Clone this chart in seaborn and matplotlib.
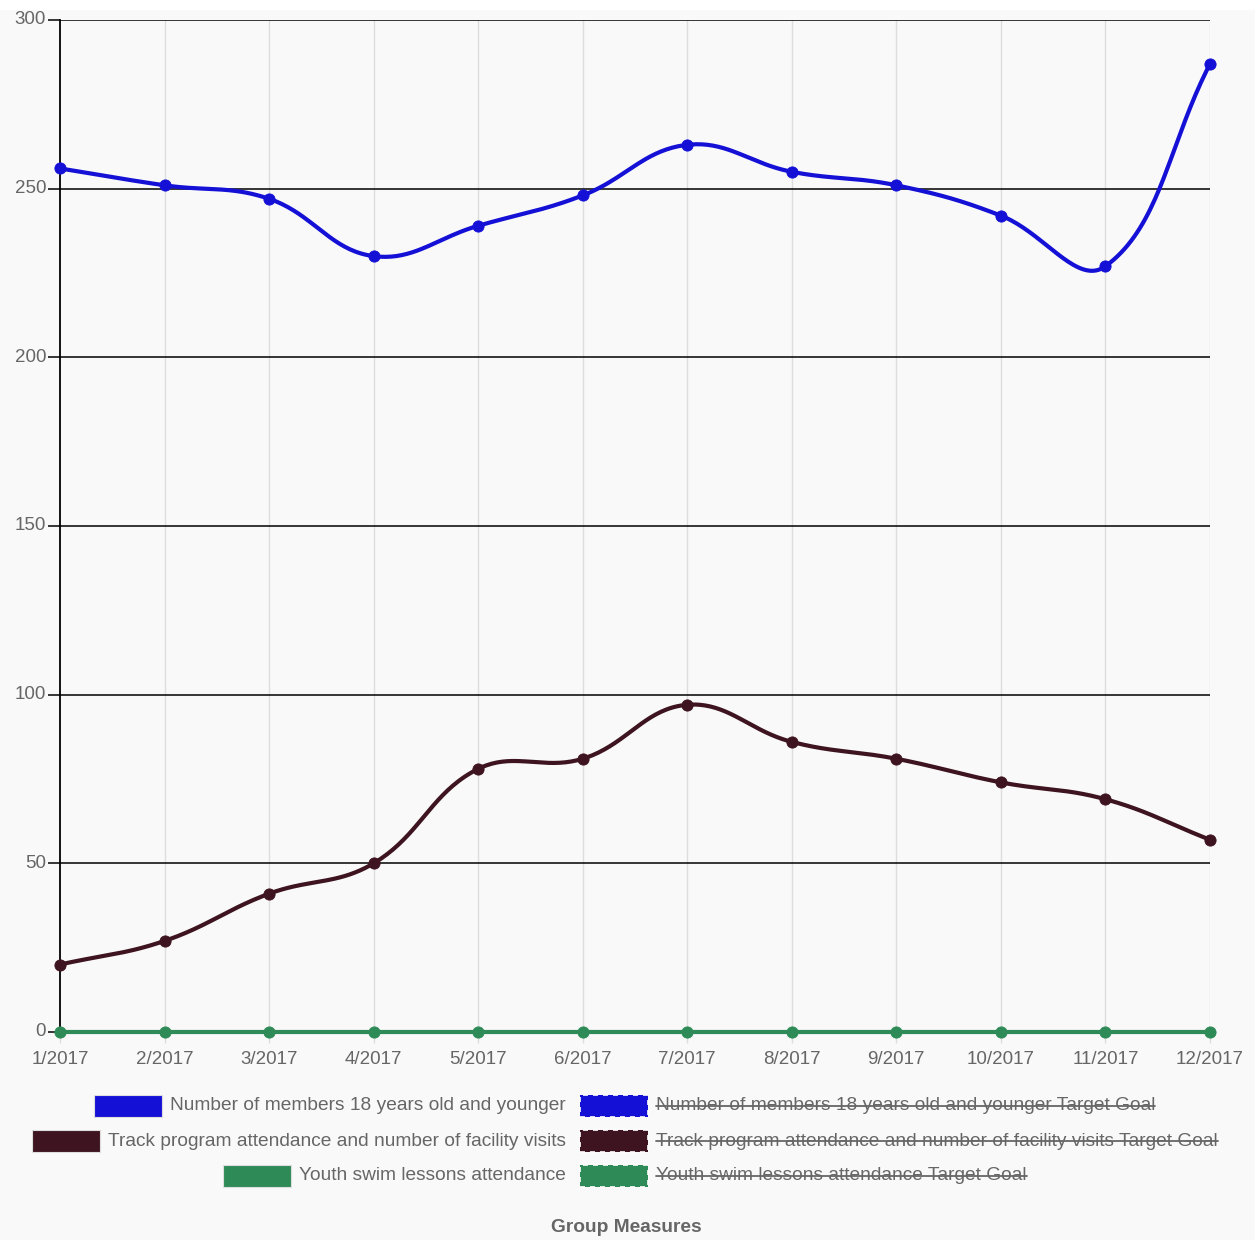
import numpy as np
import pandas as pd
import matplotlib
matplotlib.use("Agg")
import matplotlib.pyplot as plt
from matplotlib.patches import Rectangle
from matplotlib.lines import Line2D
import seaborn as sns

# Données
mois = ["1/2017", "2/2017", "3/2017", "4/2017", "5/2017", "6/2017",
        "7/2017", "8/2017", "9/2017", "10/2017", "11/2017", "12/2017"]
membres = [256, 251, 247, 230, 239, 248, 263, 255, 251, 242, 227, 287]
piste = [20, 27, 41, 50, 78, 81, 97, 86, 81, 74, 69, 57]
natation = [0, 0, 0, 0, 0, 0, 0, 0, 0, 0, 0, 0]

series = ["Number of members 18 years old and younger",
          "Track program attendance and number of facility visits",
          "Youth swim lessons attendance"]
objectifs = [s + " Target Goal" for s in series]
couleurs = ["#1410d6", "#3d1420", "#2e8b57"]
titre = "Group Measures"

sns.set_theme(style="white")
plt.rcParams['font.family'] = ['Liberation Sans', 'DejaVu Sans']
gris = "#666666"
fond = "#f9f9f9"

fig = plt.figure(figsize=(12.55, 12.40), dpi=100, facecolor=fond)
ax = fig.add_axes([60 / 1255, 1 - 1032 / 1240, 1150 / 1255, 1012 / 1240])
ax.set_facecolor(fond)

# échelle pixel pour la courbe de Bézier (comme Chart.js, tension 0.4)
px_x = 1150 / 11
px_y = 1012 / 300


def courbe(vals, tension=0.4, n=40):
    xs = np.arange(len(vals)) * px_x
    ys = np.array(vals, dtype=float) * px_y
    pts = np.column_stack([xs, ys])
    ctrl_prev, ctrl_next = [], []
    for i in range(len(pts)):
        p = pts[max(i - 1, 0)]
        c = pts[i]
        nx = pts[min(i + 1, len(pts) - 1)]
        d01 = np.hypot(*(c - p))
        d12 = np.hypot(*(nx - c))
        tot = d01 + d12
        s01 = d01 / tot if tot else 0
        s12 = d12 / tot if tot else 0
        ctrl_prev.append(c - tension * s01 * (nx - p))
        ctrl_next.append(c + tension * s12 * (nx - p))
    out = []
    t = np.linspace(0, 1, n)[:, None]
    for i in range(len(pts) - 1):
        p0, p1, p2, p3 = pts[i], ctrl_next[i], ctrl_prev[i + 1], pts[i + 1]
        seg = ((1 - t) ** 3) * p0 + 3 * ((1 - t) ** 2) * t * p1 + 3 * (1 - t) * t ** 2 * p2 + t ** 3 * p3
        out.append(seg)
    out = np.vstack(out)
    return pd.DataFrame({"x": out[:, 0] / px_x, "y": out[:, 1] / px_y})


# grille
for v in range(0, 301, 50):
    ax.axhline(v, color="black", lw=1.1, zorder=1)
for i in range(1, 12):
    ax.axvline(i, color="#dddddd", lw=1, zorder=0)

for vals, col in [(natation, couleurs[2]), (piste, couleurs[1]), (membres, couleurs[0])]:
    df = courbe(vals)
    sns.lineplot(data=df, x="x", y="y", color=col, lw=3, sort=False, ax=ax, zorder=3, clip_on=False)
    pts = pd.DataFrame({"x": np.arange(len(vals)), "y": vals})
    sns.scatterplot(data=pts, x="x", y="y", color=col, s=65, edgecolor=col, ax=ax, zorder=4, clip_on=False)

ax.set_xlim(0, 11)
ax.set_ylim(0, 300)
ax.set_xticks(range(12))
ax.set_xticklabels(mois)
ax.set_yticks(range(0, 301, 50))
ax.set_xlabel("")
ax.set_ylabel("")
for s in ["top", "right", "bottom"]:
    ax.spines[s].set_visible(False)
ax.spines["left"].set_color("black")
ax.spines["left"].set_linewidth(1.3)
ax.tick_params(axis="y", length=9, width=1.1, color="black", pad=1, labelsize=13.5, labelcolor=gris)
ax.tick_params(axis="x", length=8, width=1, color="#dddddd", pad=6, labelsize=13.5, labelcolor=gris)
ax.tick_params(left=True, bottom=True)
for lab in ax.get_yticklabels():
    lab.set_verticalalignment("center")

# légende manuelle
W, H = 1255, 1240
lignes_y = [1106, 1141, 1176]
boite_w, boite_h = 68, 22
txt_fs = 13.8
textes_barres = []
for k in range(3):
    yc = 1 - lignes_y[k] / H
    # colonne gauche, alignée à droite
    t = fig.text(566 / W, yc, series[k], ha="right", va="center", fontsize=txt_fs, color=gris)
    fig.canvas.draw()
    bb = t.get_window_extent()
    x0 = bb.x0 - 8 - boite_w
    fig.patches.append(Rectangle((x0 / W, yc - boite_h / 2 / H), boite_w / W, boite_h / H,
                                 transform=fig.transFigure, facecolor=couleurs[k],
                                 edgecolor="#dddddd", lw=0.8))
    # colonne droite (séries masquées)
    fig.patches.append(Rectangle((580 / W, yc - boite_h / 2 / H), boite_w / W, boite_h / H,
                                 transform=fig.transFigure, facecolor=couleurs[k],
                                 edgecolor="white", lw=1.2, linestyle=(0, (3, 3))))
    t2 = fig.text(656 / W, yc, objectifs[k], ha="left", va="center", fontsize=txt_fs, color=gris)
    textes_barres.append(t2)

fig.canvas.draw()
for t2 in textes_barres:
    bb = t2.get_window_extent()
    ym = (bb.y0 + bb.y1) / 2 / H
    fig.lines.append(Line2D([bb.x0 / W, bb.x1 / W], [ym, ym], transform=fig.transFigure,
                            color=gris, lw=1.3))

fig.text(626 / W, 1 - 1228 / H, titre, ha="center", va="center", fontsize=13.8,
         fontweight="bold", color=gris)

# bande blanche en haut
fig.patches.append(Rectangle((0, 1 - 10 / H), 1, 10 / H, transform=fig.transFigure,
                             facecolor="white", edgecolor="none", zorder=-1))

fig.savefig("out.png", dpi=100, facecolor=fond)
